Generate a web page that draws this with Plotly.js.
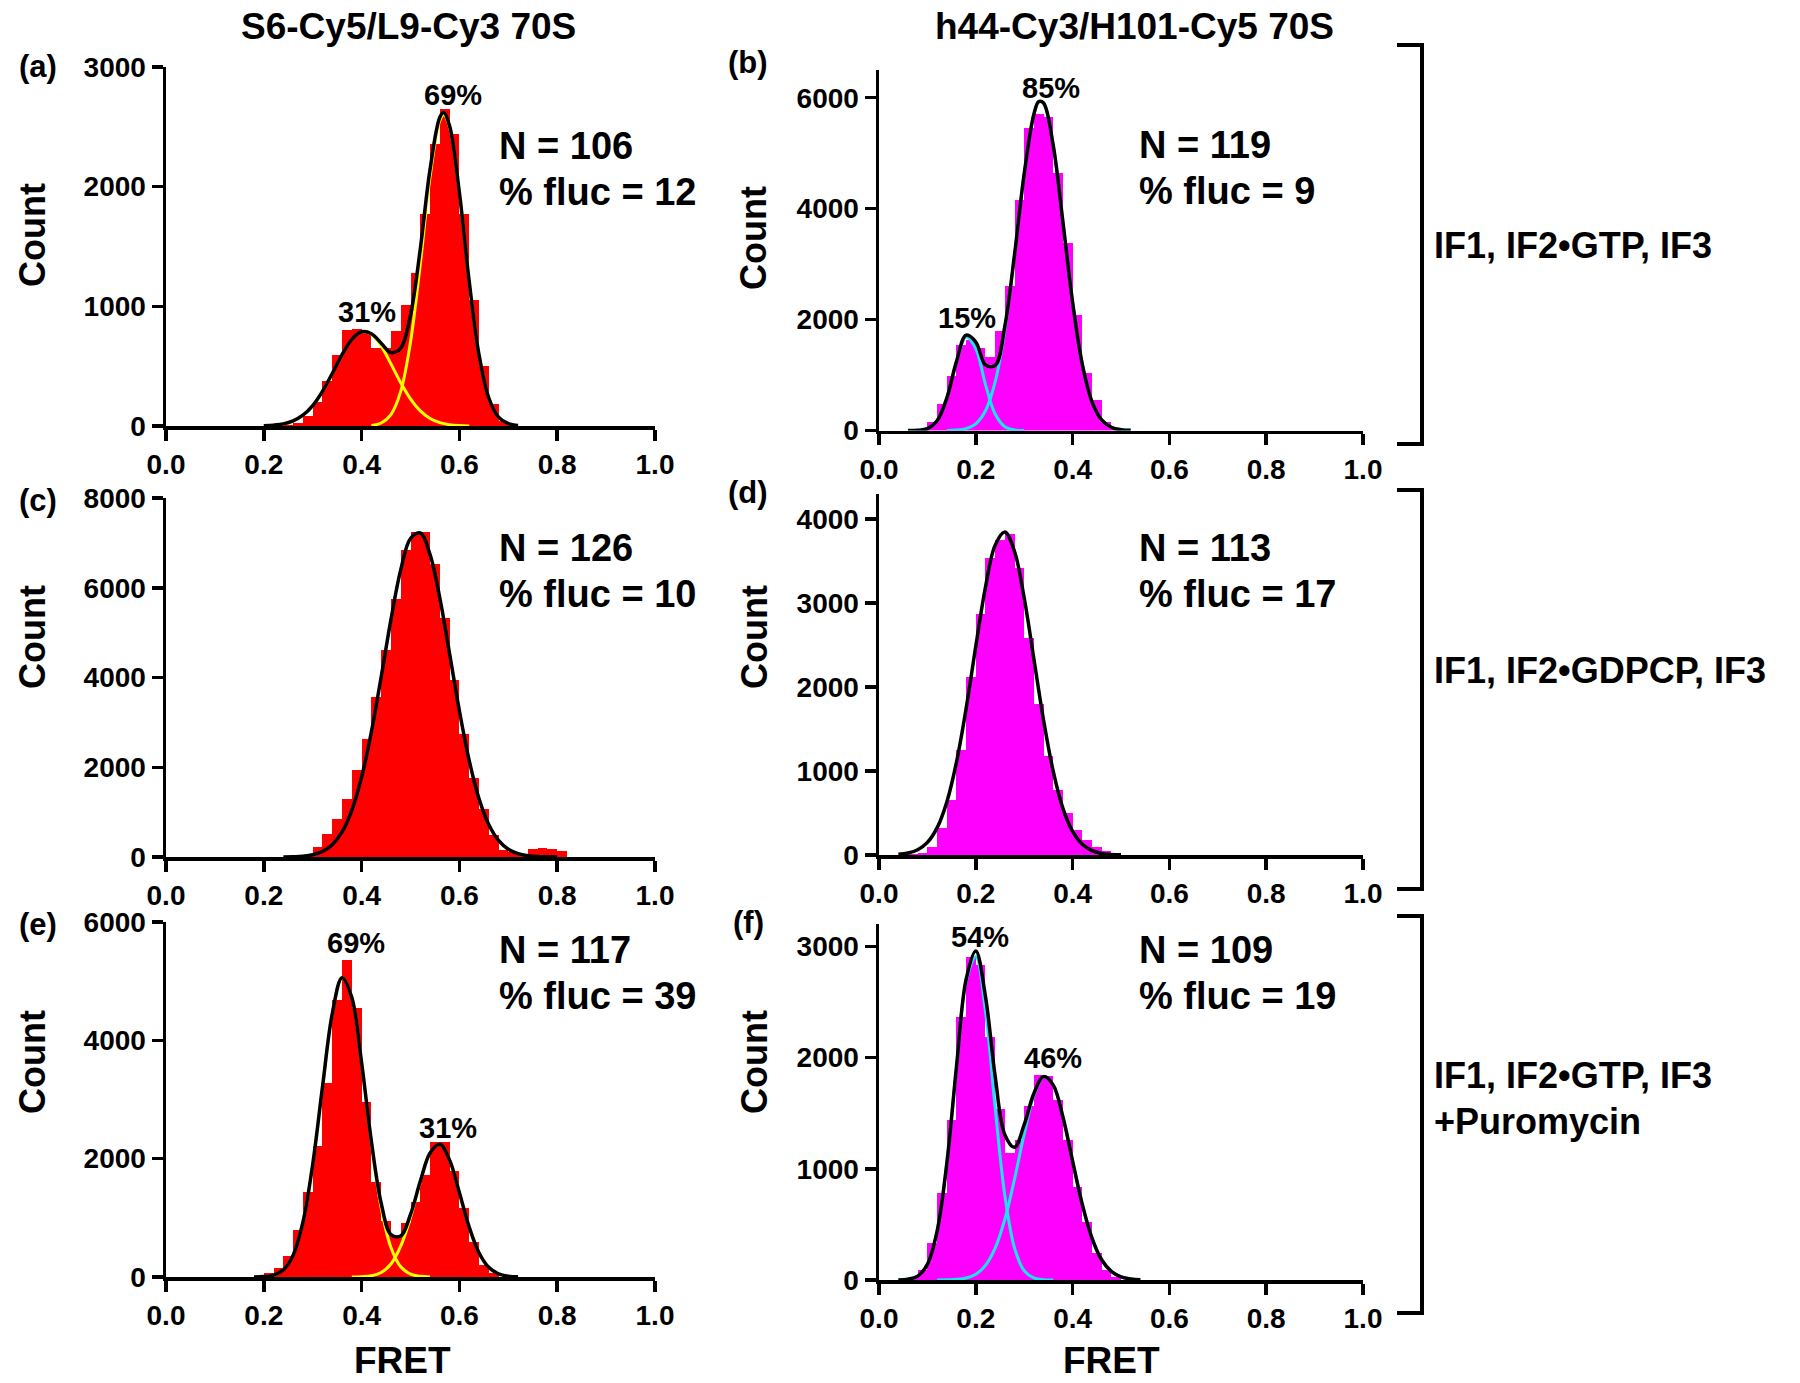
<!DOCTYPE html>
<html>
<head>
<meta charset="utf-8">
<script src="https://cdn.plot.ly/plotly-3.0.1.min.js"></script>
<style>
  html, body { margin: 0; padding: 0; background: #fff; }
  #chart { width: 1800px; height: 1383px; }
</style>
</head>
<body>
<div id="chart"></div>
<script>
// ---- histogram bins (bin centres, width 0.02) and counts ----
const aFret = [0.23,0.25,0.27,0.29,0.31,0.33,0.35,0.37,0.39,0.41,0.43,0.45,0.47,0.49,0.51,0.53,0.55,0.57,0.59,0.61,0.63,0.65,0.67,0.69,0.71];
const aCount = [5,10,25,85,200,380,590,800,810,780,650,650,790,1010,1280,1770,2360,2650,2440,1770,1050,505,185,45,10];

const bFret = [0.09,0.11,0.13,0.15,0.17,0.19,0.21,0.23,0.25,0.27,0.29,0.31,0.33,0.35,0.37,0.39,0.41,0.43,0.45,0.47,0.49];
const bCount = [30,150,480,990,1540,1640,1480,1320,1800,2600,4150,5450,5700,5650,4650,3380,2080,1030,550,160,50];

const cFret = [0.27,0.29,0.31,0.33,0.35,0.37,0.39,0.41,0.43,0.45,0.47,0.49,0.51,0.53,0.55,0.57,0.59,0.61,0.63,0.65,0.67,0.69,0.71,0.73,0.75,0.77,0.79,0.81];
const cCount = [15,40,220,520,855,1300,1930,2640,3570,4610,5760,6840,7250,7250,6540,5320,3940,2750,1750,1080,480,165,110,75,185,190,185,130];

const dFret = [0.07,0.09,0.11,0.13,0.15,0.17,0.19,0.21,0.23,0.25,0.27,0.29,0.31,0.33,0.35,0.37,0.39,0.41,0.43,0.45,0.47,0.49];
const dCount = [10,25,100,316,650,1245,2115,2865,3540,3755,3820,3420,2590,1800,1185,770,495,296,178,100,50,15];

const eFret = [0.19,0.21,0.23,0.25,0.27,0.29,0.31,0.33,0.35,0.37,0.39,0.41,0.43,0.45,0.47,0.49,0.51,0.53,0.55,0.57,0.59,0.61,0.63,0.65,0.67];
const eCount = [20,73,156,352,800,1440,2220,3285,4680,5350,4540,2950,1610,940,690,910,1270,1720,2280,2280,1800,1160,600,210,73];

const fFret = [0.07,0.09,0.11,0.13,0.15,0.17,0.19,0.21,0.23,0.25,0.27,0.29,0.31,0.33,0.35,0.37,0.39,0.41,0.43,0.45,0.47,0.49];
const fCount = [20,90,330,780,1440,2365,2900,2830,2185,1540,1140,1260,1560,1840,1830,1620,1260,840,525,240,90,30];

// ---- fitted curves (total and single peaks) ----
const aFitX = [0.20,0.22,0.24,0.26,0.28,0.30,0.32,0.34,0.36,0.38,0.40,0.42,0.44,0.46,0.48,0.50,0.52,0.54,0.56,0.568,0.58,0.60,0.62,0.64,0.66,0.68,0.70,0.72];
const aFit = [2,7,18,43,90,171,290,439,596,724,787,771,692,614,651,927,1479,2145,2581,2620,2507,1949,1209,598,236,74,19,4];
const aPeak1X = [0.20,0.22,0.24,0.26,0.28,0.30,0.32,0.34,0.36,0.38,0.40,0.42,0.44,0.46,0.48,0.50,0.52,0.54,0.56,0.58,0.60,0.62];
const aPeak1 = [2,7,18,43,90,171,290,439,596,724,787,766,667,519,362,226,126,63,28,11,4,1];
const aPeak2X = [0.42,0.44,0.46,0.48,0.50,0.52,0.54,0.56,0.568,0.58,0.60,0.62,0.64,0.66,0.68,0.70,0.72];
const aPeak2 = [5,25,95,289,701,1353,2082,2553,2600,2496,1945,1208,598,236,74,19,4];

const bFitX = [0.06,0.08,0.10,0.12,0.14,0.16,0.18,0.20,0.22,0.24,0.26,0.28,0.30,0.32,0.33,0.34,0.36,0.38,0.40,0.42,0.44,0.46,0.48,0.50,0.52];
const bFit = [0,4,34,175,582,1242,1720,1596,1183,1173,1882,3170,4631,5702,5930,5904,5138,3760,2312,1195,520,190,58,15,3];
const bPeak1X = [0.06,0.08,0.10,0.12,0.14,0.16,0.18,0.20,0.22,0.24,0.26,0.28,0.30];
const bPeak1 = [0,4,34,175,580,1234,1685,1475,828,298,69,10,1];
const bPeak2X = [0.14,0.16,0.18,0.20,0.22,0.24,0.26,0.28,0.30,0.32,0.33,0.34,0.36,0.38,0.40,0.42,0.44,0.46,0.48,0.50,0.52];
const bPeak2 = [2,8,35,121,355,875,1813,3160,4630,5702,5929,5904,5138,3760,2312,1195,520,190,58,15,3];

const cFitX = [0.24,0.26,0.28,0.30,0.32,0.34,0.36,0.38,0.40,0.42,0.44,0.46,0.48,0.50,0.52,0.54,0.56,0.58,0.60,0.62,0.64,0.66,0.68,0.70,0.72,0.74,0.76,0.78,0.80];
const cFit = [2,7,19,51,124,275,558,1040,1779,2790,4011,5290,6398,7098,7222,6739,5768,4526,3257,2151,1302,723,369,172,74,29,10,4,1];

const dFitX = [0.04,0.06,0.08,0.10,0.12,0.14,0.16,0.18,0.20,0.22,0.24,0.26,0.28,0.30,0.32,0.34,0.36,0.38,0.40,0.42,0.44,0.46,0.48,0.50];
const dFit = [8,23,62,150,323,629,1104,1745,2486,3191,3691,3848,3615,3061,2335,1605,995,556,280,127,52,19,6,2];

const eFitX = [0.18,0.20,0.22,0.24,0.26,0.28,0.30,0.32,0.34,0.36,0.38,0.40,0.42,0.44,0.46,0.48,0.50,0.52,0.54,0.56,0.58,0.60,0.62,0.64,0.66,0.68,0.70,0.72];
const eFit = [1,7,32,121,369,925,1903,3211,4449,5059,4722,3621,2294,1250,717,693,1057,1617,2097,2245,1975,1425,844,411,164,54,14,3];
const ePeak1X = [0.18,0.20,0.22,0.24,0.26,0.28,0.30,0.32,0.34,0.36,0.38,0.40,0.42,0.44,0.46,0.48,0.50,0.52,0.54];
const ePeak1 = [1,7,32,121,369,925,1903,3211,4449,5059,4721,3616,2272,1173,497,172,49,12,2];
const ePeak2X = [0.38,0.40,0.42,0.44,0.46,0.48,0.50,0.52,0.54,0.56,0.58,0.60,0.62,0.64,0.66,0.68,0.70,0.72];
const ePeak2 = [1,5,22,77,220,521,1008,1605,2095,2245,1975,1425,844,411,164,54,14,3];

const fFitX = [0.04,0.06,0.08,0.10,0.12,0.14,0.16,0.18,0.20,0.22,0.24,0.26,0.28,0.30,0.32,0.34,0.36,0.38,0.40,0.42,0.44,0.46,0.48,0.50,0.52,0.54];
const fFit = [1,7,35,141,437,1043,1913,2702,2957,2548,1832,1306,1194,1396,1677,1828,1752,1465,1069,680,377,182,77,28,9,3];
const fPeak1X = [0.04,0.06,0.08,0.10,0.12,0.14,0.16,0.18,0.20,0.22,0.24,0.26,0.28,0.30,0.32,0.34,0.36];
const fPeak1 = [1,7,35,141,437,1041,1907,2684,2905,2417,1546,760,287,83,19,3,1];
const fPeak2X = [0.12,0.14,0.16,0.18,0.20,0.22,0.24,0.26,0.28,0.30,0.32,0.34,0.36,0.38,0.40,0.42,0.44,0.46,0.48,0.50,0.52,0.54];
const fPeak2 = [0,2,6,18,52,131,286,546,907,1313,1658,1825,1751,1465,1069,680,377,182,77,28,9,3];

// ---- labels ----
const fretTicks = [0, 0.2, 0.4, 0.6, 0.8, 1.0];
const fretTickText = ["0.0", "0.2", "0.4", "0.6", "0.8", "1.0"];
const columnTitles = ["S6-Cy5/L9-Cy3 70S", "h44-Cy3/H101-Cy5 70S"];
const panelLetters = ["(a)", "(b)", "(c)", "(d)", "(e)", "(f)"];
const nMolecules = [106, 119, 126, 113, 117, 109];
const pctFluc = [12, 9, 10, 17, 39, 19];
const conditions = ["IF1, IF2•GTP, IF3", "IF1, IF2•GDPCP, IF3", "IF1, IF2•GTP, IF3", "+Puromycin"];

const RED = "#ff0000", MAGENTA = "#ff00ff", YELLOW = "#ffff00", CYAN = "#19e3f5";
const W = 1800, H = 1383;
const px = (x) => x / W;
const py = (y) => 1 - y / H;
const FONT = "Liberation Sans, Arial, Helvetica, sans-serif";

// pixel boxes of each plot area [left, right] / [top, bottom]
const panels = [
  { fret: aFret, count: aCount, fitX: aFitX, fit: aFit, parts: [[aPeak1X, aPeak1], [aPeak2X, aPeak2]], bar: RED, part: YELLOW,
    bx: [166, 655], by: [67, 426], top: 3000, dtick: 1000 },
  { fret: bFret, count: bCount, fitX: bFitX, fit: bFit, parts: [[bPeak1X, bPeak1], [bPeak2X, bPeak2]], bar: MAGENTA, part: CYAN,
    bx: [879, 1363], by: [70, 430.5], top: 6500, dtick: 2000 },
  { fret: cFret, count: cCount, fitX: cFitX, fit: cFit, parts: [], bar: RED, part: YELLOW,
    bx: [166, 655], by: [498, 857], top: 8000, dtick: 2000 },
  { fret: dFret, count: dCount, fitX: dFitX, fit: dFit, parts: [], bar: MAGENTA, part: CYAN,
    bx: [879, 1363], by: [494, 855], top: 4300, dtick: 1000 },
  { fret: eFret, count: eCount, fitX: eFitX, fit: eFit, parts: [[ePeak1X, ePeak1], [ePeak2X, ePeak2]], bar: RED, part: YELLOW,
    bx: [166, 655], by: [922, 1277], top: 6000, dtick: 2000 },
  { fret: fFret, count: fCount, fitX: fFitX, fit: fFit, parts: [[fPeak1X, fPeak1], [fPeak2X, fPeak2]], bar: MAGENTA, part: CYAN,
    bx: [879, 1363], by: [924, 1280], top: 3200, dtick: 1000 },
];

const traces = [];
const layout = {
  width: W, height: H,
  margin: { l: 0, r: 0, t: 0, b: 0 },
  paper_bgcolor: "white", plot_bgcolor: "white",
  showlegend: false,
  bargap: 0,
  annotations: [],
  shapes: [],
};

const axisCommon = {
  showline: true, linecolor: "black", linewidth: 3.5,
  ticks: "outside", ticklen: 11, tickwidth: 3.5, tickcolor: "black",
  showgrid: false, zeroline: false, fixedrange: true,
  tickfont: { family: FONT, size: 28, color: "black", weight: "bold" },
};

panels.forEach((p, i) => {
  const n = i === 0 ? "" : String(i + 1);
  const xa = "x" + n, ya = "y" + n;

  layout["xaxis" + n] = Object.assign({}, axisCommon, {
    domain: [px(p.bx[0]), px(p.bx[1])], anchor: ya,
    range: [0, 1], tickmode: "array", tickvals: fretTicks, ticktext: fretTickText,
  });
  layout["yaxis" + n] = Object.assign({}, axisCommon, {
    domain: [py(p.by[1]), py(p.by[0])], anchor: xa,
    range: [0, p.top], tick0: 0, dtick: p.dtick,
  });

  traces.push({
    type: "bar", x: p.fret, y: p.count, width: 0.02,
    marker: { color: p.bar, line: { width: 0 } },
    xaxis: xa, yaxis: ya, hoverinfo: "skip",
  });
  p.parts.forEach(([xs, ys]) => traces.push({
    type: "scatter", mode: "lines", x: xs, y: ys,
    line: { color: p.part, width: 3, shape: "spline", smoothing: 1 },
    xaxis: xa, yaxis: ya, hoverinfo: "skip",
  }));
  traces.push({
    type: "scatter", mode: "lines", x: p.fitX, y: p.fit,
    line: { color: "black", width: 3.5, shape: "spline", smoothing: 1 },
    xaxis: xa, yaxis: ya, hoverinfo: "skip",
  });
});

function label(text, x, y, size, opts) {
  layout.annotations.push(Object.assign({
    text: text, x: px(x), y: py(y), xref: "paper", yref: "paper",
    showarrow: false, xanchor: "center", yanchor: "middle",
    font: { family: FONT, size: size, color: "black", weight: "bold" },
  }, opts || {}));
}

// column titles
label(columnTitles[0], 408, 27, 37);
label(columnTitles[1], 1134, 27, 37);

// panel letters
const letterPos = [[38, 67], [748, 63], [38, 500], [748, 492], [38, 924], [748, 922]];
panelLetters.forEach((t, i) => label(t, letterPos[i][0], letterPos[i][1], 31));

// N and % fluc
const statPos = [[497, 146], [1137, 145], [497, 548], [1137, 548], [497, 950], [1137, 950]];
nMolecules.forEach((nv, i) => {
  label("N = " + nv, statPos[i][0], statPos[i][1], 38, { xanchor: "left" });
  label("% fluc = " + pctFluc[i], statPos[i][0], statPos[i][1] + 46, 38, { xanchor: "left" });
});

// peak percentages
const peakLabels = [
  ["69%", 453, 95], ["31%", 367, 312],
  ["85%", 1051, 88], ["15%", 967, 318],
  ["69%", 356, 943], ["31%", 448, 1128],
  ["54%", 980, 937], ["46%", 1053, 1058],
];
peakLabels.forEach(([t, x, y]) => label(t, x, y, 29));

// axis titles
[[32, 235], [754, 238], [32, 637], [754, 637], [32, 1062], [754, 1062]].forEach(([x, y]) =>
  label("Count", x, y, 36, { textangle: -90 }));
label("FRET", 402, 1360, 37);
label("FRET", 1111, 1360, 37);

// condition brackets and labels
const brackets = [[45, 444], [490, 889], [916, 1313]];
brackets.forEach(([y0, y1]) => layout.shapes.push({
  type: "path", xref: "paper", yref: "paper",
  path: `M ${px(1397)},${py(y0)} L ${px(1422)},${py(y0)} L ${px(1422)},${py(y1)} L ${px(1397)},${py(y1)}`,
  line: { color: "black", width: 4 },
}));
const condY = [246, 670, 1075, 1121];
conditions.forEach((t, i) => label(t, 1432, condY[i], 36, { xanchor: "left" }));

Plotly.newPlot("chart", traces, layout, { staticPlot: true, displayModeBar: false });
</script>
</body>
</html>
